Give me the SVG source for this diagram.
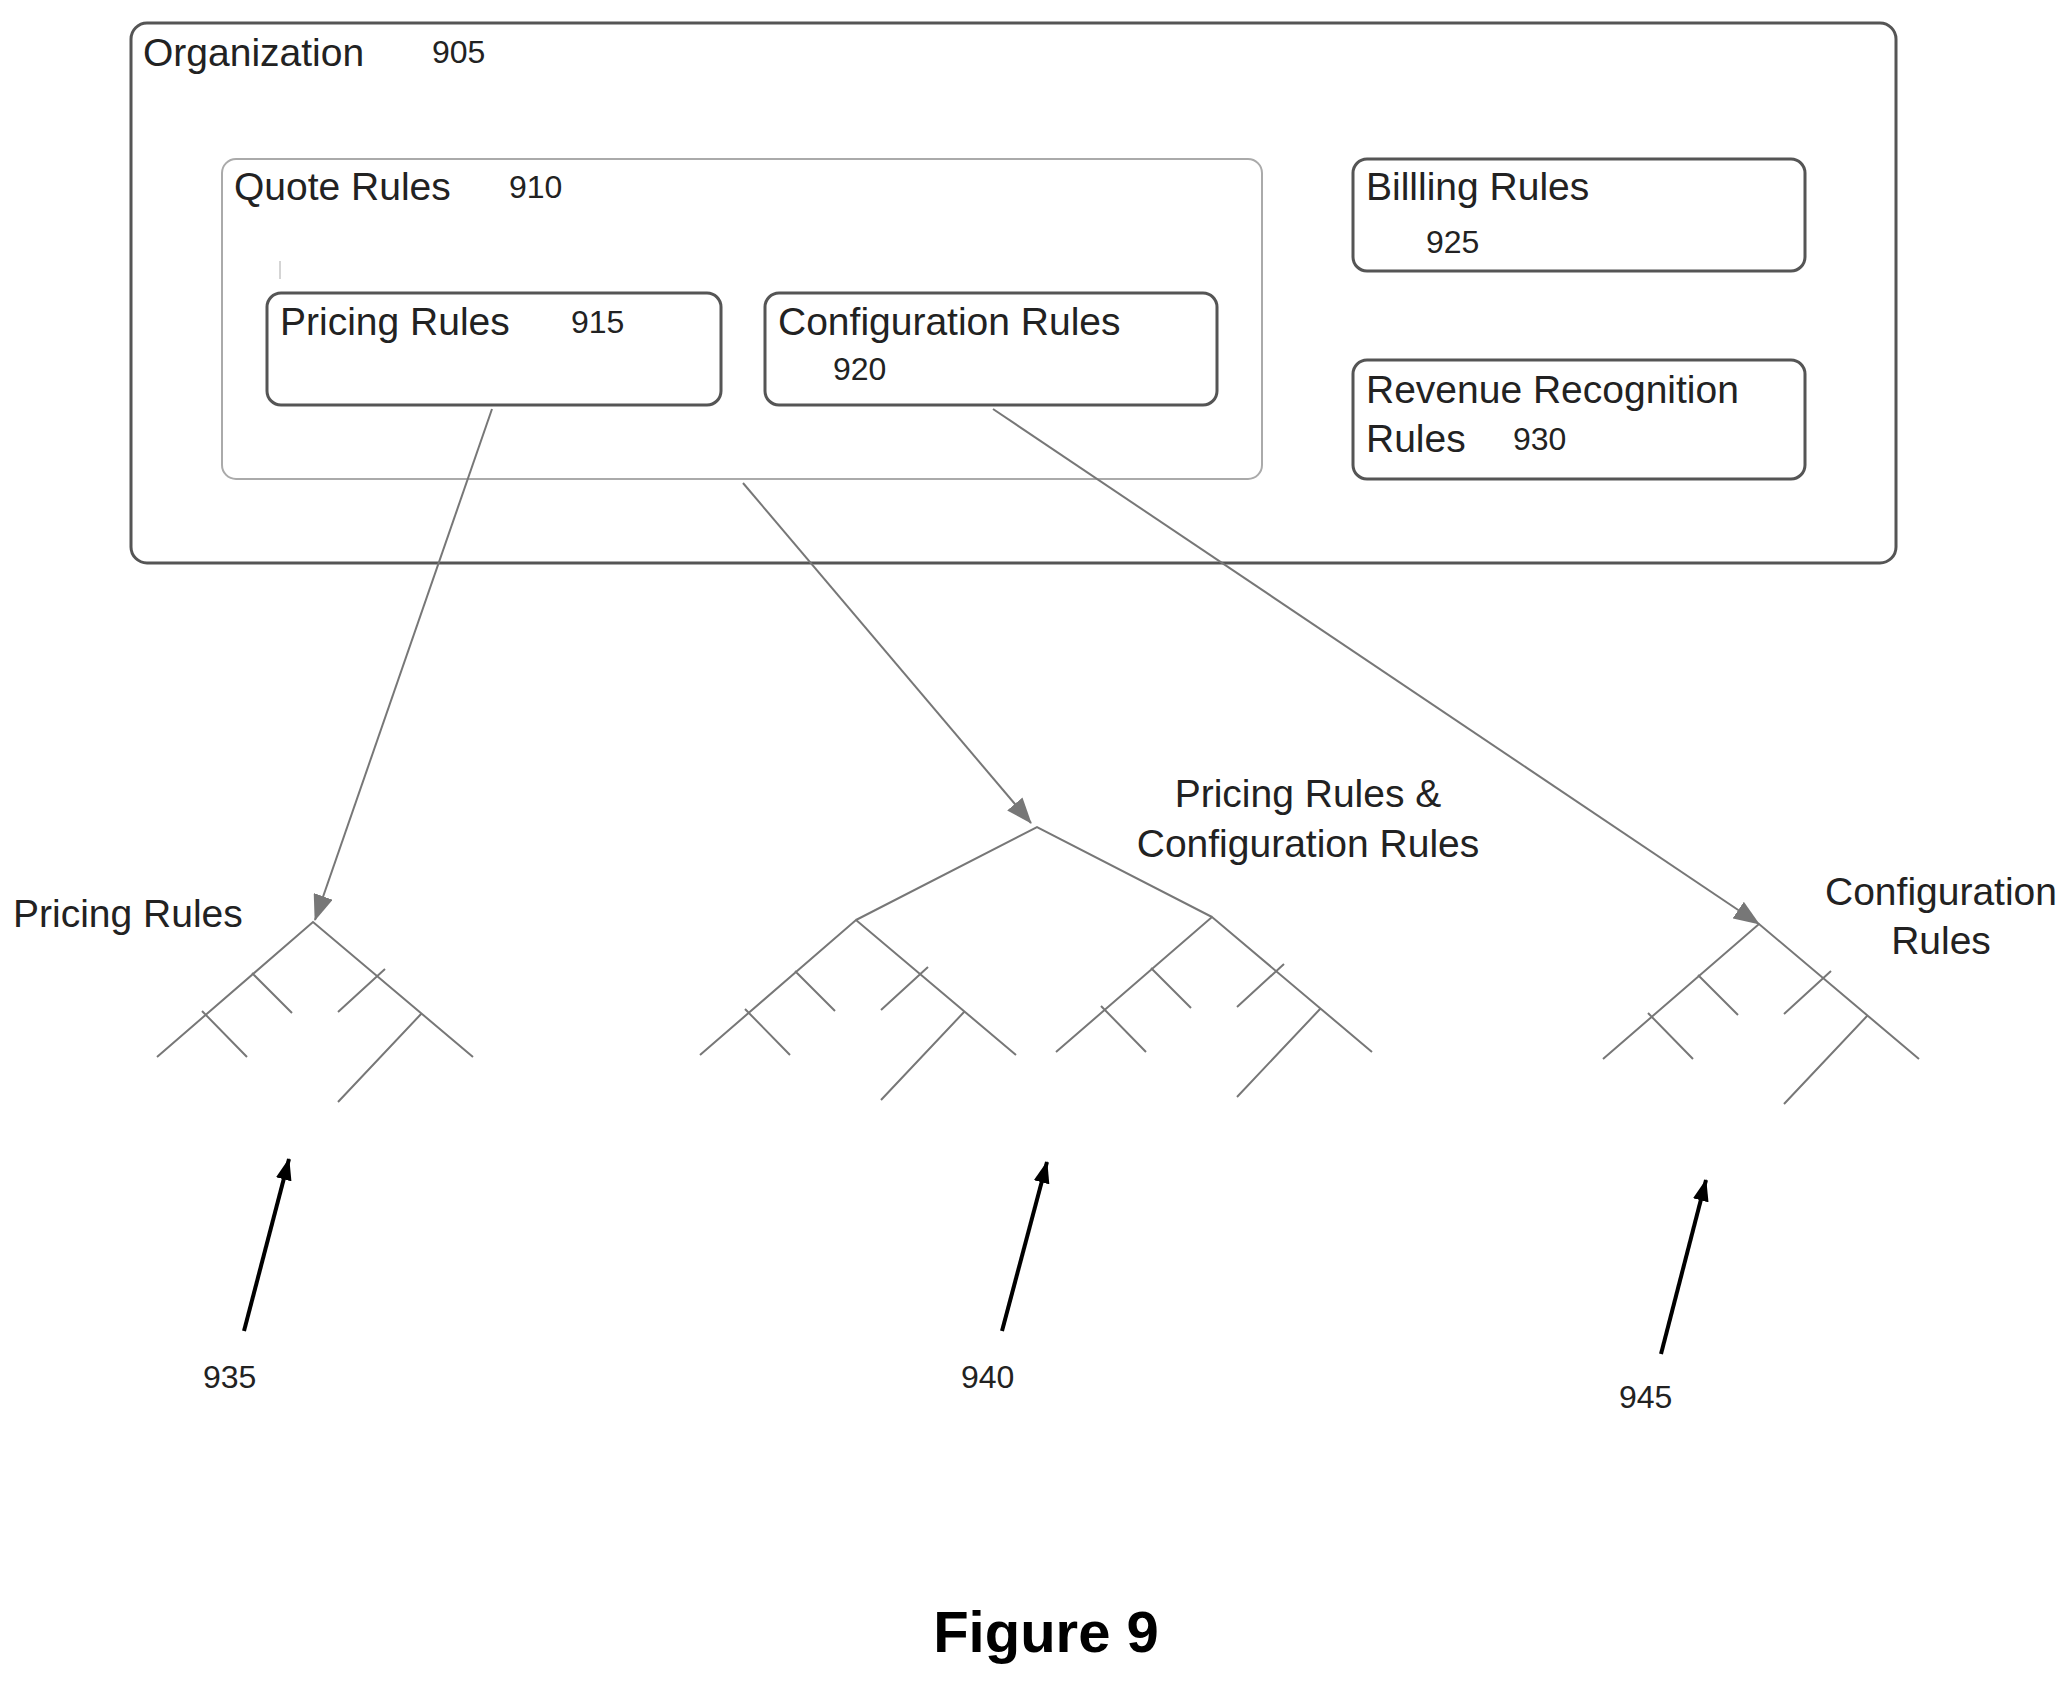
<svg xmlns="http://www.w3.org/2000/svg" width="2071" height="1683" viewBox="0 0 2071 1683">
<style>
text{font-family:"Liberation Sans",Arial,sans-serif;fill:#222}
.t{font-size:39px}.n{font-size:32px}
.box{fill:#fff;stroke:#555;stroke-width:3}
.lbox{fill:#fff;stroke:#aaa;stroke-width:2}
.tr{stroke:#777;stroke-width:2;fill:none}
.ga{stroke:#777;stroke-width:2;fill:none;marker-end:url(#gh)}
.ba{stroke:#000;stroke-width:4;fill:none;marker-end:url(#bh)}
</style>
<defs>
<marker id="gh" markerWidth="26" markerHeight="20" refX="25" refY="10" orient="auto" markerUnits="userSpaceOnUse" viewBox="0 0 26 20"><path d="M0,0L26,10L0,20z" fill="#777"/></marker>
<marker id="bh" markerWidth="22" markerHeight="16" refX="21" refY="8" orient="auto" markerUnits="userSpaceOnUse" viewBox="0 0 22 16"><path d="M0,0L22,8L0,16z" fill="#000"/></marker>
<g id="sub" class="tr"><path d="M-156,135L0,0L160,135M-61,51L-21,91M-111,89L-66,135M72,47L25,90M109,91L25,180"/></g>
</defs>
<g id="org"><rect class="box" x="131" y="23" width="1765" height="540" rx="16"/><text class="t" x="143" y="66">Organization</text><text class="n" x="432" y="63">905</text></g>
<g id="quote"><rect class="lbox" x="222" y="159" width="1040" height="320" rx="14"/><text class="t" x="234" y="200">Quote Rules</text><text class="n" x="509" y="198">910</text><line x1="280" y1="261" x2="280" y2="279" stroke="#aaa" stroke-width="1"/></g>
<g id="pricing"><rect class="box" x="267" y="293" width="454" height="112" rx="14" stroke="#888"/><text class="t" x="280" y="335">Pricing Rules</text><text class="n" x="571" y="333">915</text></g>
<g id="config"><rect class="box" x="765" y="293" width="452" height="112" rx="14" stroke="#888"/><text class="t" x="778" y="335">Configuration Rules</text><text class="n" x="833" y="380">920</text></g>
<g id="billing"><rect class="box" x="1353" y="159" width="452" height="112" rx="14"/><text class="t" x="1366" y="200">Billling Rules</text><text class="n" x="1426" y="253">925</text></g>
<g id="revenue"><rect class="box" x="1353" y="360" width="452" height="119" rx="14"/><text class="t" x="1366" y="403">Revenue Recognition</text><text class="t" x="1366" y="452">Rules</text><text class="n" x="1513" y="450">930</text></g>
<g id="connectors">
<line class="ga" x1="492" y1="409" x2="315" y2="920"/>
<line class="ga" x1="743" y1="483" x2="1031" y2="823"/>
<line class="ga" x1="993" y1="409" x2="1759" y2="924"/>
<line class="ba" x1="244" y1="1331" x2="289" y2="1159"/>
<line class="ba" x1="1002" y1="1331" x2="1047" y2="1162"/>
<line class="ba" x1="1661" y1="1354" x2="1706" y2="1180"/>
</g>
<g id="tree935"><use href="#sub" x="313" y="922"/><text class="t" x="13" y="927">Pricing Rules</text></g>
<g id="tree940"><path class="tr" d="M856,920L1037,827L1212,917"/><use href="#sub" x="856" y="920"/><use href="#sub" x="1212" y="917"/><text class="t" x="1308" y="807" text-anchor="middle">Pricing Rules &amp;</text><text class="t" x="1308" y="857" text-anchor="middle">Configuration Rules</text></g>
<g id="tree945"><use href="#sub" x="1759" y="924"/><text class="t" x="1941" y="905" text-anchor="middle">Configuration</text><text class="t" x="1941" y="954" text-anchor="middle">Rules</text></g>
<text class="n" x="203" y="1388">935</text><text class="n" x="961" y="1388">940</text><text class="n" x="1619" y="1408">945</text>
<text x="1046" y="1652" text-anchor="middle" font-size="58" font-weight="bold" style="fill:#000">Figure 9</text>
</svg>
